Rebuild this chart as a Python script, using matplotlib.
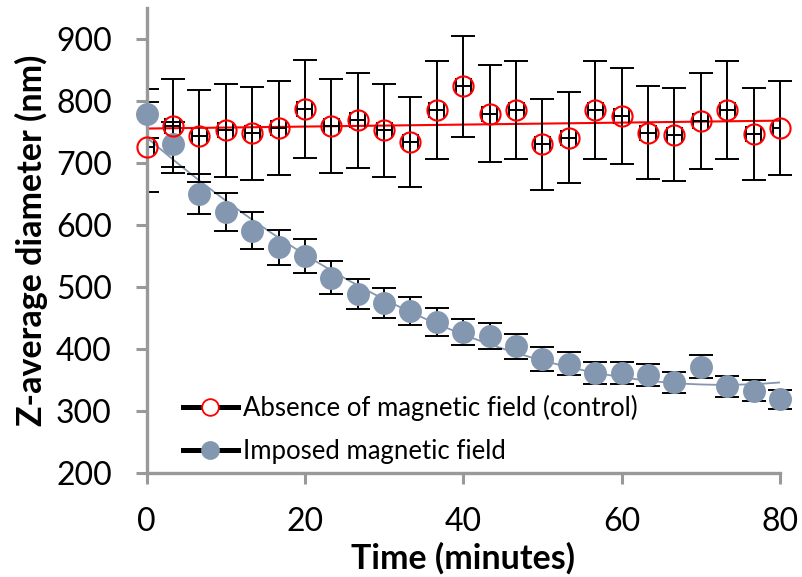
import numpy as np
import matplotlib
matplotlib.use("Agg")
import matplotlib.pyplot as plt
from matplotlib.lines import Line2D
from matplotlib.patches import Rectangle

# Sampling times (minutes)
time_min = [0, 3.33, 6.67, 10, 13.33, 16.67, 20, 23.33, 26.67, 30, 33.33, 36.67,
            40, 43.33, 46.67, 50, 53.33, 56.67, 60, 63.33, 66.67, 70, 73.33, 76.67, 80]

# Control: no magnetic field
control_nm = [726, 760, 744, 753, 748, 757, 787, 760, 769, 753, 734, 786, 824,
              780, 786, 730, 741, 786, 776, 749, 746, 768, 786, 747, 757]
control_err = [72, 76, 74, 75, 75, 76, 79, 76, 77, 75, 73, 79, 82,
               78, 79, 73, 74, 79, 78, 75, 75, 77, 79, 75, 76]
time_err = 0.95

# With imposed magnetic field
field_nm = [780, 730, 650, 621, 591, 564, 550, 515, 488, 474, 461, 443, 427,
            420, 404, 383, 376, 361, 361, 357, 346, 371, 339, 332, 318]
field_err = [39, 36, 33, 31, 30, 28, 28, 26, 24, 24, 23, 22, 21,
             21, 20, 19, 19, 18, 18, 18, 17, 19, 17, 17, 16]

legend_labels = ["Absence of magnetic field (control)", "Imposed magnetic field"]
x_ticks = [0, 20, 40, 60, 80]
y_ticks = [200, 300, 400, 500, 600, 700, 800, 900]

RED = "#ff0000"
SLATE = "#8497b0"
AXIS_GREY = "#999999"

plt.rcParams["font.family"] = ["Lato", "DejaVu Sans"]

fig = plt.figure(figsize=(8.02, 5.77), dpi=100)
ax = fig.add_axes([0.1827, 0.1811, 0.9726 - 0.1827, 0.9856 - 0.1811])

t = np.array(time_min, dtype=float)
c = np.array(control_nm, dtype=float)
f = np.array(field_nm, dtype=float)

# Trend lines fitted to each series
tt = np.linspace(0, 80, 300)
lin = np.polyfit(t, c, 1)
ax.plot(tt, np.polyval(lin, tt), color=RED, lw=1.5, zorder=1.5)
quad = np.polyfit(t, f, 2)
ax.plot(tt, np.polyval(quad, tt), color=SLATE, lw=1.3, zorder=1.5)

# Error bars: vertical bars are cut at the y axis but may overhang the right end
clip_box = Rectangle((0, 150), 84, 850, transform=ax.transData, visible=False)
ax.add_patch(clip_box)

eb_kw = dict(fmt="none", ecolor="black", elinewidth=1.4, capthick=1.4, zorder=2)
for y, err in ((c, control_err), (f, field_err)):
    cont = ax.errorbar(t, y, yerr=err, capsize=8.5, **eb_kw)
    for art in list(cont.lines[1]) + list(cont.lines[2]):
        art.set_clip_path(clip_box)
ax.errorbar(t, c, xerr=time_err, capsize=5.5, **eb_kw)

# Markers
ax.plot(t, f, "o", ms=15.5, mfc=SLATE, mec=SLATE, ls="none", zorder=3, clip_on=False)
ax.plot(t, c, "o", ms=14.5, mfc="none", mec=RED, mew=1.5, ls="none", zorder=3.5,
        clip_on=False)

ax.set_xlim(0, 80)
ax.set_ylim(200, 950)
ax.set_xticks(x_ticks)
ax.set_yticks(y_ticks)

for side in ("top", "right"):
    ax.spines[side].set_visible(False)
for side in ("left", "bottom"):
    ax.spines[side].set_color(AXIS_GREY)
    ax.spines[side].set_linewidth(2.4)
ax.tick_params(axis="both", direction="out", length=8, width=2.2, color=AXIS_GREY,
               labelsize=23, pad=17)

ax.set_xlabel("Time (minutes)", fontsize=24.5, fontweight="bold", labelpad=3.5)
ax.set_ylabel("Z-average diameter (nm)", fontsize=24.5, fontweight="bold", labelpad=6)

handles = [
    Line2D([], [], color="black", lw=3.6, marker="o", ms=12, mfc="white",
           mec=RED, mew=1.3),
    Line2D([], [], color="black", lw=3.6, marker="o", ms=12.5, mfc=SLATE, mec=SLATE),
]
ax.legend(handles, legend_labels, loc="lower left", bbox_to_anchor=(0.057, 0.018),
          frameon=False, fontsize=18.5, handlelength=2.15, handletextpad=0.2,
          labelspacing=0.72, borderpad=0, borderaxespad=0)

fig.savefig("out.png", dpi=100)
